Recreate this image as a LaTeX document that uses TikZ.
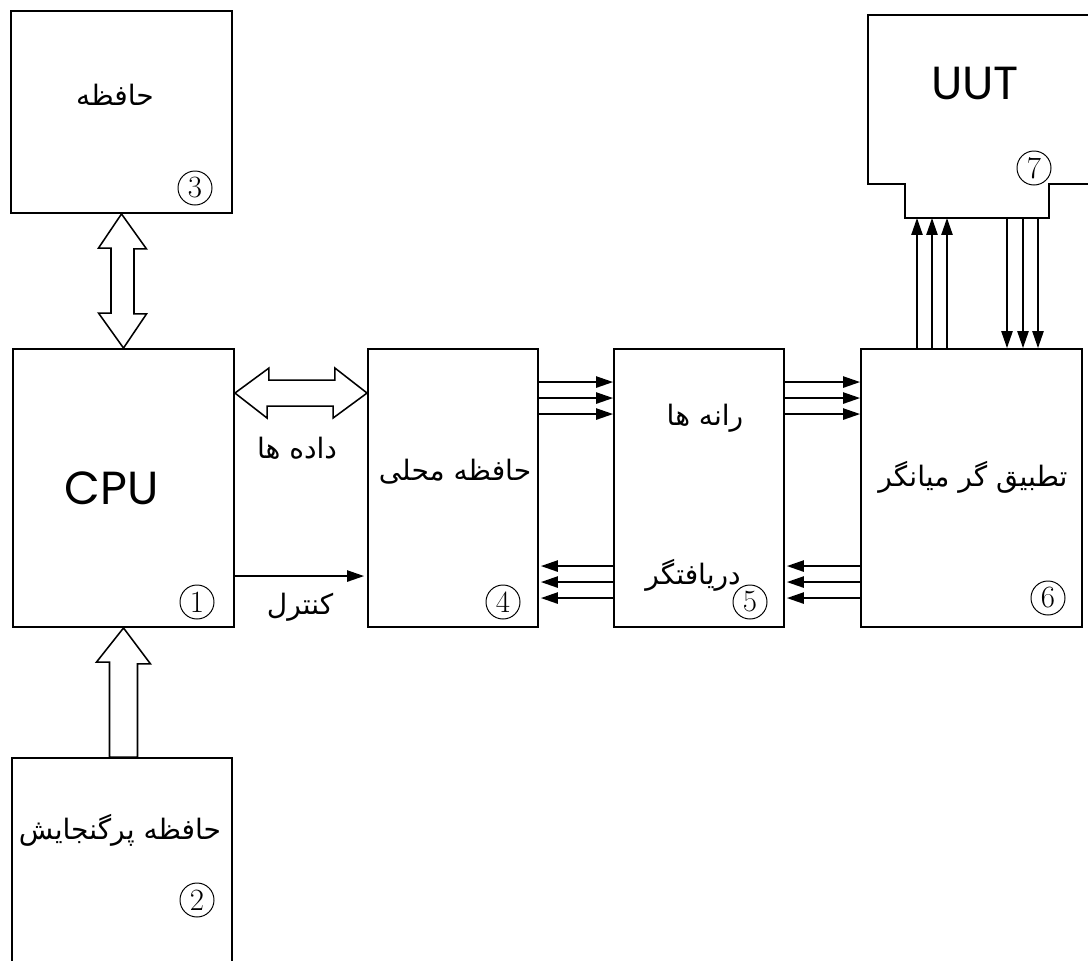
\documentclass[tikz,border=0pt]{standalone}
\usepackage{fontspec}
\newfontfamily\farsi[Script=Arabic]{DejaVu Sans}
\newfontfamily\geo{Poppins}
\TeXXeTstate=1
\usetikzlibrary{arrows.meta,calc}

\tikzset{
  block/.style={draw, line width=1.3pt, inner sep=0pt},
  num/.style={draw, circle, line width=0.7pt, minimum size=0.85cm, inner sep=0pt, font=\fontsize{22}{22}\selectfont},
  fa/.style={font=\farsi\fontsize{20}{22}\selectfont},
  lat/.style={font=\geo\fontsize{33}{35}\selectfont},
  bus/.style={draw, line width=1.1pt, fill=white},
  wire/.style={line width=1.1pt, -{Triangle[length=12pt,width=8pt]}},
}

\begin{document}
\begin{tikzpicture}[x=0.025cm, y=-0.025cm]
  \useasboundingbox (0,0) rectangle (1088,961);

  % blocks
  \node[block, minimum width=5.525cm, minimum height=5.05cm] (mem) at (121.5,112) {};
  \node[block, minimum width=5.525cm, minimum height=6.95cm] (cpu) at (123.5,488) {};
  \node[block, minimum width=5.5cm, minimum height=5.5cm] (bulk) at (122,868) {};
  \node[block, minimum width=4.25cm, minimum height=6.95cm] (lmem) at (453,488) {};
  \node[block, minimum width=4.25cm, minimum height=6.95cm] (drv) at (699,488) {};
  \node[block, minimum width=5.525cm, minimum height=6.95cm] (adapt) at (971.5,488) {};
  \draw[line width=1.3pt] (1088,15) -- (868,15) -- (868,184) -- (905,184) -- (905,218)
    -- (1049,218) -- (1049,184) -- (1088,184);
  \coordinate (uutbot) at (977,218);

  % texts
  \node[fa] (t3) at (115,95) {\beginR حافظه\endR};
  \node[lat] (t1) at (112,488) {CPU};
  \node[fa] (t2) at (120,830) {\beginR حافظه پرگنجایش\endR};
  \node[fa] (t4) at (455,472) {\beginR حافظه محلی\endR};
  \node[fa] (t5a) at (705,418) {\beginR رانه ها\endR};
  \node[fa] (t5b) at (693,575) {\beginR دریافتگر\endR};
  \node[fa] (t6) at (973,477) {\beginR تطبیق گر میانگر\endR};
  \node[lat] (t7) at (975,83) {UUT};
  \node[fa] (data) at (297,448) {\beginR داده ها\endR};
  \node[fa] (ctrl) at (300,607) {\beginR کنترل\endR};

  % numbers
  \node[num] (n3) at (195,188) {3};
  \node[num] (n1) at (197,602) {1};
  \node[num] (n2) at (197,900) {2};
  \node[num] (n4) at (503,602) {4};
  \node[num] (n5) at (750,602) {5};
  \node[num] (n6) at (1048,598) {6};
  \node[num] (n7) at (1034,168) {7};

  % wide buses
  \draw[bus] (mem.south) -- ++(25,35) -- ++(-12.5,0) -- ++(0,65) -- ++(12.5,0) -- (cpu.north)
    -- ++(-25,-35) -- ++(12.5,0) -- ++(0,-65) -- ++(-12.5,0) -- cycle;
  \coordinate (d1) at ($(cpu.north east)+(0,45)$);
  \coordinate (d2) at ($(lmem.north west)+(0,45)$);
  \draw[bus] (d1) -- ++(34,-25) -- ++(0,12) -- ++(66,0) -- ++(0,-12) -- (d2)
    -- ++(-34,25) -- ++(0,-12) -- ++(-66,0) -- ++(0,12) -- cycle;
  \draw[bus] (cpu.south) -- ++(27,36) -- ++(-13,0) -- (bulk.north -| {$(cpu.south)+(14,0)$})
    -- ++(-28,0) -- ++(0,-95) -- ++(-13,0) -- cycle;

  % control
  \draw[wire] ($(cpu.north east)+(0,228)$) -- ($(lmem.north west)+(-3,228)$);

  % signal bundles
  \foreach \dy in {34,50,66} {
    \draw[wire] ($(lmem.north east)+(0,\dy)$) -- ($(drv.north west)+(0,\dy)$);
    \draw[wire] ($(drv.north east)+(0,\dy)$) -- ($(adapt.north west)+(0,\dy)$);
  }
  \foreach \dy in {218,234,250} {
    \draw[wire] ($(drv.north west)+(0,\dy)$) -- ($(lmem.north east)+(2,\dy)$);
    \draw[wire] ($(adapt.north west)+(0,\dy)$) -- ($(drv.north east)+(2,\dy)$);
  }
  \foreach \dx in {-54.5,-39.5,-24.5} {
    \coordinate (s) at ($(adapt.north)+(\dx,0)$);
    \draw[wire] (s) -- (s |- uutbot);
  }
  \foreach \dx in {35.5,51.5,66.5} {
    \coordinate (s) at ($(adapt.north)+(\dx,0)$);
    \draw[wire] (s |- uutbot) -- (s);
  }
\end{tikzpicture}
\end{document}
